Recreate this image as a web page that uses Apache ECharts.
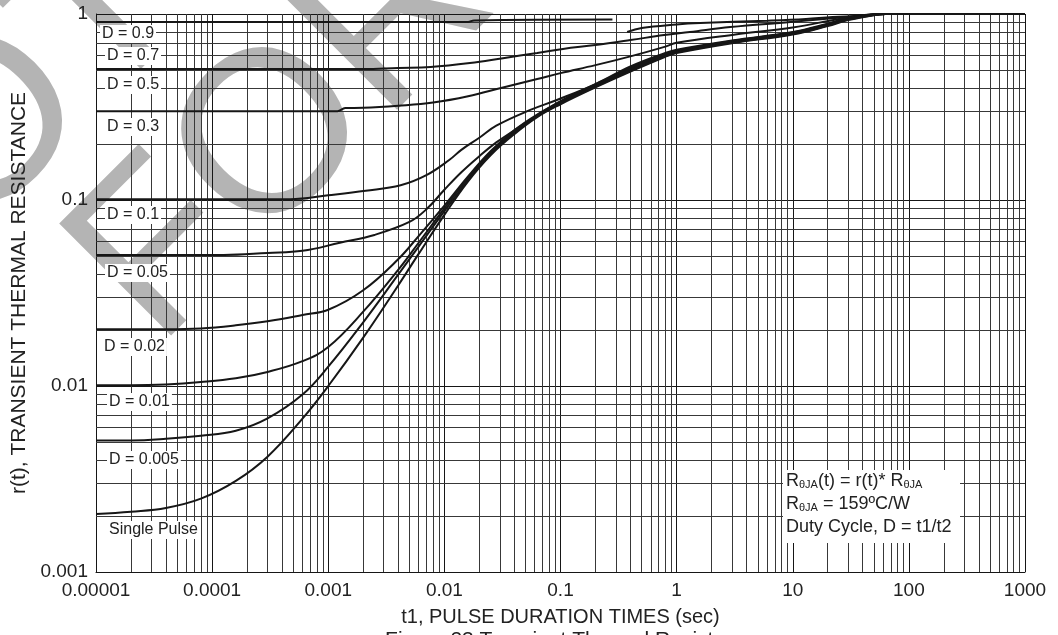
<!DOCTYPE html>
<html>
<head>
<meta charset="utf-8">
<script src="https://cdn.jsdelivr.net/npm/echarts@6/dist/echarts.min.js"></script>
<style>
  html, body { margin: 0; padding: 0; background: #ffffff; }
  #chart { width: 1058px; height: 635px; }
</style>
</head>
<body>
<div id="chart"></div>
<script>
// Axis tick labels
const tickLabelsX = ['0.00001', '0.0001', '0.001', '0.01', '0.1', '1', '10', '100', '1000'];
const tickLabelsY = ['0.001', '0.01', '0.1', '1'];

// Curve names (duty cycles)
const dutyLabels = ['D = 0.9', 'D = 0.7', 'D = 0.5', 'D = 0.3', 'D = 0.1', 'D = 0.05',
                    'D = 0.02', 'D = 0.01', 'D = 0.005', 'Single Pulse'];

// Transient thermal resistance r(t) versus pulse duration t1 (sec): [t1, r]
const curveD09 = [[1e-5, 0.906], [0.016, 0.906], [0.018, 0.924], [0.28, 0.933]];
const curveD07 = [[0.375, 0.80], [0.5, 0.841], [1, 0.879], [1.6, 0.895], [6, 0.92], [13, 0.94],
                  [22, 0.964], [38, 0.975], [56, 1], [1000, 1]];
const curveD05 = [[1e-5, 0.506], [2e-3, 0.506], [4e-3, 0.513], [7.6e-3, 0.519], [0.0166, 0.545],
                  [0.032, 0.579], [0.063, 0.617], [0.105, 0.649], [0.2, 0.681], [0.4, 0.724],
                  [0.78, 0.771], [1.3, 0.80], [2.9, 0.851], [9.5, 0.906], [29, 0.964], [56, 1], [1000, 1]];
const curveD03 = [[1e-5, 0.30], [1.2e-3, 0.30], [1.4e-3, 0.312], [2e-3, 0.313], [4e-3, 0.321],
                  [8e-3, 0.334], [0.016, 0.361], [0.032, 0.403], [0.063, 0.447], [0.1, 0.481],
                  [0.2, 0.531], [0.4, 0.592], [0.8, 0.668], [1, 0.70], [3.2, 0.776], [10, 0.847],
                  [25, 0.94], [45, 0.991], [60, 1], [1000, 1]];
const curveD01 = [[1e-5, 0.101], [4.7e-4, 0.101], [1e-3, 0.106], [2.1e-3, 0.112], [4.2e-3, 0.12],
                  [7e-3, 0.136], [0.011, 0.164], [0.014, 0.186], [0.02, 0.216], [0.028, 0.251],
                  [0.055, 0.305], [0.093, 0.345], [0.2, 0.42], [0.4, 0.522], [0.8, 0.617], [1, 0.643],
                  [3, 0.721], [10, 0.80], [20, 0.887], [30, 0.953], [50, 0.993], [63, 1], [1000, 1]];
const curveD005 = [[1e-5, 0.0506], [1.26e-4, 0.0506], [3e-4, 0.0519], [6e-4, 0.0533], [1.26e-3, 0.0589],
                   [2.5e-3, 0.0649], [5e-3, 0.0762], [7e-3, 0.0891], [0.01, 0.1135], [0.014, 0.141],
                   [0.02, 0.172], [0.028, 0.204], [0.04, 0.237], [0.055, 0.27], [0.1, 0.34], [0.2, 0.419],
                   [0.4, 0.513], [0.8, 0.61], [1, 0.635], [3, 0.716], [10, 0.796], [20, 0.881],
                   [30, 0.946], [50, 0.993], [63, 1], [1000, 1]];
const curveD002 = [[1e-5, 0.0202], [4e-5, 0.0202], [8e-5, 0.0204], [1.6e-4, 0.0212], [3e-4, 0.0223],
                   [6e-4, 0.0241], [1e-3, 0.0257], [2e-3, 0.0327], [4e-3, 0.048], [6e-3, 0.064],
                   [0.01, 0.0933], [0.016, 0.134], [0.025, 0.183], [0.04, 0.237], [0.063, 0.288],
                   [0.1, 0.337], [0.2, 0.415], [0.4, 0.506], [0.8, 0.604], [1, 0.631], [3, 0.713],
                   [10, 0.791], [20, 0.875], [30, 0.942], [50, 0.991], [63, 1], [1000, 1]];
const curveD001 = [[1e-5, 0.0101], [2e-5, 0.0101], [4e-5, 0.0102], [8e-5, 0.0105], [1.6e-4, 0.011],
                   [3e-4, 0.0119], [6e-4, 0.0136], [1e-3, 0.0162], [2e-3, 0.0251], [4e-3, 0.0421],
                   [6e-3, 0.0589], [0.01, 0.0902], [0.016, 0.131], [0.025, 0.18], [0.04, 0.233],
                   [0.063, 0.285], [0.1, 0.334], [0.2, 0.411], [0.4, 0.501], [0.8, 0.60], [1, 0.627],
                   [3, 0.708], [10, 0.787], [20, 0.871], [30, 0.937], [50, 0.991], [63, 1], [1000, 1]];
const curveD0005 = [[1e-5, 0.0051], [2e-5, 0.0051], [4e-5, 0.0052], [8e-5, 0.0054], [1.6e-4, 0.00575],
                    [3e-4, 0.0067], [6e-4, 0.009], [1e-3, 0.0127], [2e-3, 0.022], [4e-3, 0.0397],
                    [6e-3, 0.0562], [0.01, 0.0871], [0.016, 0.128], [0.025, 0.177], [0.04, 0.23],
                    [0.063, 0.282], [0.1, 0.331], [0.2, 0.407], [0.4, 0.495], [0.8, 0.594], [1, 0.622],
                    [3, 0.703], [10, 0.782], [20, 0.867], [30, 0.933], [50, 0.989], [63, 1], [1000, 1]];
const curveSingle = [[1e-5, 0.00205], [2e-5, 0.00211], [4e-5, 0.00221], [8e-5, 0.00248], [1.6e-4, 0.00309],
                     [3e-4, 0.00417], [6e-4, 0.00668], [1e-3, 0.01], [2e-3, 0.0182], [4e-3, 0.0347],
                     [6e-3, 0.0513], [0.01, 0.0832], [0.016, 0.126], [0.025, 0.174], [0.04, 0.226],
                     [0.063, 0.279], [0.1, 0.327], [0.2, 0.403], [0.4, 0.49], [0.8, 0.589], [1, 0.617],
                     [3, 0.697], [10, 0.776], [20, 0.861], [30, 0.927], [50, 0.986], [63, 1], [1000, 1]];

const curves = [curveD09, curveD07, curveD05, curveD03, curveD01, curveD005,
                curveD002, curveD001, curveD0005, curveSingle];

const FONT = '"Liberation Sans", Arial, Helvetica, sans-serif';
const INK = '#161616';

// log-paper minor lines at 2..9 of every decade
const minorX = [];
for (let e = -5; e < 3; e++) for (let m = 2; m <= 9; m++) minorX.push(+(m * Math.pow(10, e)).toPrecision(3));
const minorY = [];
for (let e = -3; e < 0; e++) for (let m = 2; m <= 9; m++) minorY.push(+(m * Math.pow(10, e)).toPrecision(3));

const X_MIN = 1e-5, X_MAX = 1000, Y_MIN = 0.001, Y_MAX = 1;

function decadeLabel(list, v) {
  const k = Math.round(Math.log10(v));
  return list[k - Math.round(Math.log10(parseFloat(list[0])))] || '';
}

const chart = echarts.init(document.getElementById('chart'), null, { renderer: 'canvas' });

const lineSeries = curves.map((c, i) => ({
  name: dutyLabels[i],
  type: 'line',
  data: c,
  z: 3,
  showSymbol: false,
  symbol: 'none',
  smooth: 0.4,
  lineStyle: { color: INK, width: 2 },
  emphasis: { disabled: true },
  animation: false
}));

// label boxes placed just under each curve's flat start
const labelPos = [[100, 34], [105, 56], [105, 85], [105, 127], [105, 215], [105, 273],
                  [102, 347], [107, 402], [107, 460], [107, 530]];
const labelGraphics = dutyLabels.map((t, i) => ({
  type: 'text',
  x: labelPos[i][0], y: labelPos[i][1], z: 20,
  style: {
    text: t, font: '16px ' + FONT, fill: '#222',
    align: 'left', verticalAlign: 'middle', textAlign: 'left', textVerticalAlign: 'middle',
    backgroundColor: '#ffffff', padding: [1, 2, 1, 2]
  }
}));

const sub = { fontSize: 11, fontFamily: FONT, fill: '#222', color: '#222', verticalAlign: 'bottom', lineHeight: 18 };
const main = { fontSize: 18, fontFamily: FONT, fill: '#222', color: '#222', lineHeight: 18 };

const minorGrid = {
  type: 'lines',
  coordinateSystem: 'cartesian2d',
  z: 1,
  silent: true,
  animation: false,
  lineStyle: { color: '#383838', width: 1, opacity: 1, curveness: 0 },
  data: minorX.map(v => ({ coords: [[v, Y_MIN], [v, Y_MAX]] }))
        .concat(minorY.map(v => ({ coords: [[X_MIN, v], [X_MAX, v]] })))
};

const option = {
  animation: false,
  backgroundColor: '#ffffff',
  grid: { left: 96, right: 33, top: 14, bottom: 63, containLabel: false },
  xAxis: {
    type: 'log', logBase: 10, min: X_MIN, max: X_MAX,
    name: 't1, PULSE DURATION TIMES (sec)', nameLocation: 'middle', nameGap: 35,
    nameTextStyle: { fontFamily: FONT, fontSize: 20, color: '#222' },
    axisLine: { show: true, lineStyle: { color: INK, width: 1 } },
    axisTick: { show: false },
    axisLabel: { fontFamily: FONT, fontSize: 19, color: '#222', margin: 9,
                 formatter: v => decadeLabel(tickLabelsX, v) },
    splitLine: { show: true, lineStyle: { color: INK, width: 1 } }
  },
  yAxis: {
    type: 'log', logBase: 10, min: Y_MIN, max: Y_MAX,
    name: 'r(t), TRANSIENT THERMAL RESISTANCE', nameLocation: 'middle', nameGap: 53,
    nameTextStyle: { fontFamily: FONT, fontSize: 21, color: '#222' },
    axisLine: { show: true, lineStyle: { color: INK, width: 1 } },
    axisTick: { show: false },
    axisLabel: { fontFamily: FONT, fontSize: 19, color: '#222', margin: 8,
                 formatter: v => decadeLabel(tickLabelsY, v) },
    splitLine: { show: true, lineStyle: { color: INK, width: 1 } }
  },
  series: [minorGrid].concat(lineSeries),
  graphic: [
    // background watermark
    { type: 'text', x: -190, y: 310, rotation: Math.PI / 4, z: -5, silent: true,
      style: { text: 'NOT', font: '230px ' + FONT, fill: '#b4b4b4',
               align: 'left', verticalAlign: 'middle', textAlign: 'left', textVerticalAlign: 'middle' } },
    { type: 'text', x: 113, y: 304, rotation: Math.PI / 4, z: -5, silent: true,
      style: { text: 'FOR NEW DESIGN', font: '230px ' + FONT, fill: '#b4b4b4',
               align: 'left', verticalAlign: 'middle', textAlign: 'left', textVerticalAlign: 'middle' } },
    // note box
    { type: 'rect', shape: { x: 783, y: 470, width: 177, height: 73 }, z: 19, silent: true,
      style: { fill: '#ffffff' } },
    { type: 'text', x: 786, y: 481, z: 20, silent: true,
      style: { text: '{m|R}{s|θJA}{m|(t) = r(t)* R}{s|θJA}', rich: { m: main, s: sub },
               align: 'left', verticalAlign: 'middle', textAlign: 'left', textVerticalAlign: 'middle' } },
    { type: 'text', x: 786, y: 504, z: 20, silent: true,
      style: { text: '{m|R}{s|θJA}{m| = 159ºC/W}', rich: { m: main, s: sub },
               align: 'left', verticalAlign: 'middle', textAlign: 'left', textVerticalAlign: 'middle' } },
    { type: 'text', x: 786, y: 527, z: 20, silent: true,
      style: { text: 'Duty Cycle, D = t1/t2', font: '18px ' + FONT, fill: '#222',
               align: 'left', verticalAlign: 'middle', textAlign: 'left', textVerticalAlign: 'middle' } },
    // figure caption (bottom)
    { type: 'text', x: 572, y: 630, z: 20, silent: true,
      style: { text: 'Figure 23 Transient Thermal Resistance', font: '21px ' + FONT, fill: '#222',
               align: 'center', verticalAlign: 'top', textAlign: 'center', textVerticalAlign: 'top' } }
  ].concat(labelGraphics)
};

chart.setOption(option);
</script>
</body>
</html>
